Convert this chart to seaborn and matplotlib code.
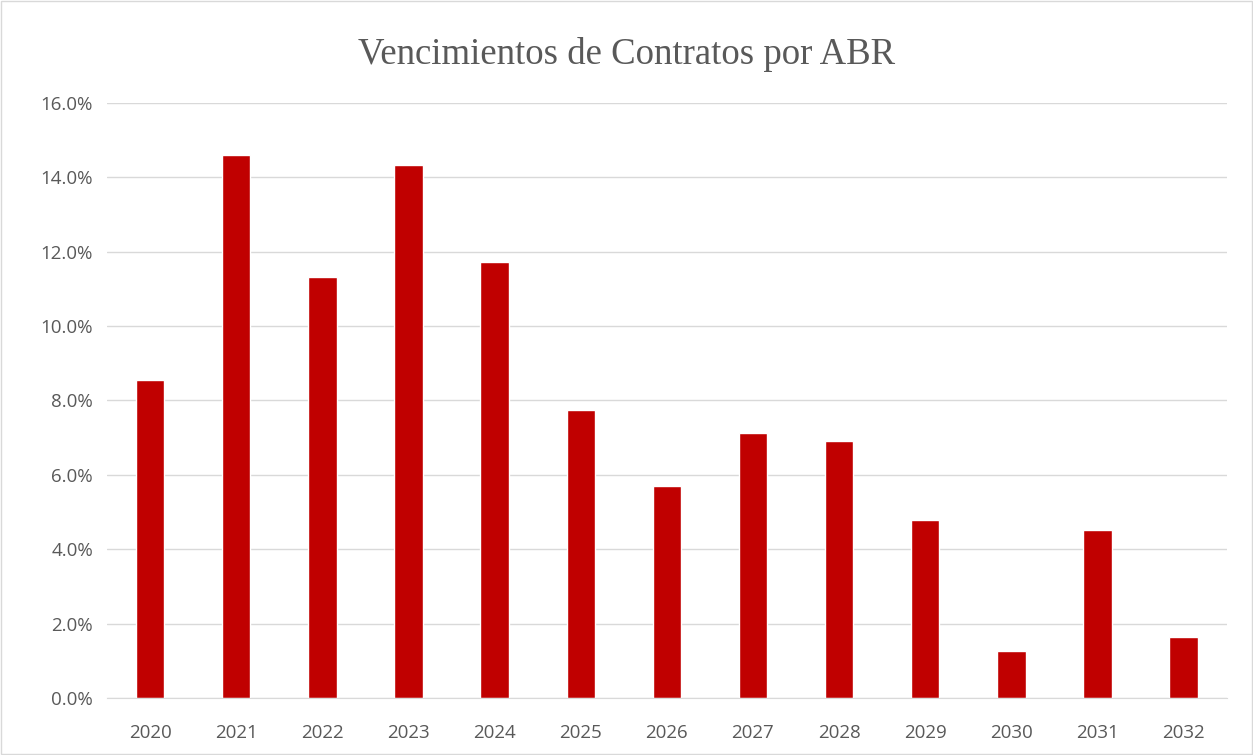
import matplotlib
matplotlib.use('Agg')
import matplotlib.pyplot as plt
import seaborn as sns
import pandas as pd
from matplotlib.ticker import PercentFormatter
from matplotlib.patches import Rectangle

# data
years = ['2020', '2021', '2022', '2023', '2024', '2025', '2026',
         '2027', '2028', '2029', '2030', '2031', '2032']
share = [8.56, 14.59, 11.33, 14.34, 11.73, 7.75, 5.70,
         7.13, 6.91, 4.79, 1.26, 4.51, 1.63]

df = pd.DataFrame({'year': years, 'share': share})

sns.set_style('white')
fig = plt.figure(figsize=(12.53, 7.55), dpi=100)
ax = fig.add_axes([0.0854, 0.0755, 0.8936, 0.7881])

sns.barplot(data=df, x='year', y='share', color='#C00000', width=0.33,
            saturation=1, ax=ax)

ax.set_ylim(0, 16)
ax.set_yticks(range(0, 17, 2))
ax.yaxis.set_major_formatter(PercentFormatter(decimals=1))
ax.grid(axis='y', color='#D9D9D9', linewidth=1)
ax.set_axisbelow(True)
for s in ['top', 'right', 'left']:
    ax.spines[s].set_visible(False)
ax.spines['bottom'].set_color('#D9D9D9')
ax.tick_params(axis='both', length=0, labelsize=13.5, labelcolor='#595959')
ax.tick_params(axis='x', pad=19)
ax.tick_params(axis='y', pad=10)
for lab in ax.get_xticklabels() + ax.get_yticklabels():
    lab.set_family('Open Sans')
ax.set_xlabel('')
ax.set_ylabel('')

fig.text(0.5, 0.928, 'Vencimientos de Contratos por ABR', ha='center', va='center',
         fontsize=26.5, color='#595959', family='Liberation Serif')

fig.patches.append(Rectangle((0.001, 0.001), 0.998, 0.998, transform=fig.transFigure,
                             fill=False, edgecolor='#D9D9D9', linewidth=1))

fig.savefig('out.png', dpi=100)
